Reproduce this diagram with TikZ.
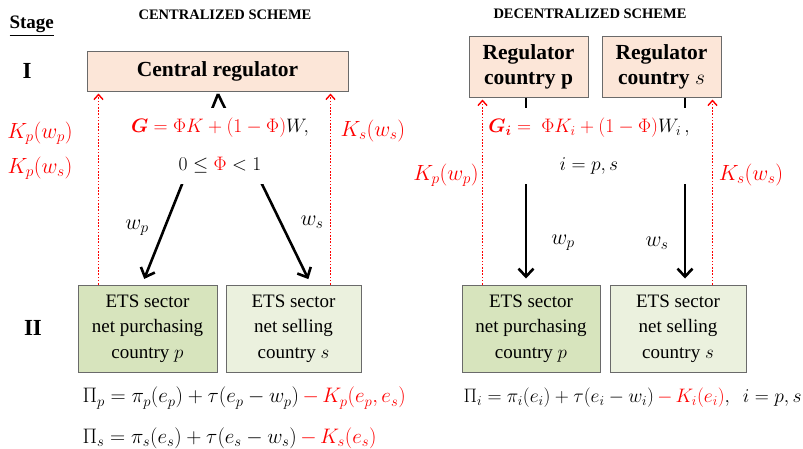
\RequirePackage{fix-cm}
\documentclass[tikz,border=0pt]{standalone}
\usepackage{amsmath}
\usepackage{bm}
\usepackage[no-math]{fontspec}
\setmainfont{Liberation Serif}
\usetikzlibrary{arrows.meta,calc}
\definecolor{peach}{HTML}{FCE6D8}
\definecolor{greenA}{HTML}{D7E4BD}
\definecolor{greenB}{HTML}{EBF1DE}
\definecolor{bordergray}{HTML}{6A6A6A}
\definecolor{myred}{HTML}{FF0000}
\begin{document}
\begin{tikzpicture}[x=1pt,y=-1pt,
  regbox/.style={draw=bordergray,line width=1pt,fill=peach,inner sep=0pt,align=center,
    font=\fontsize{21.5}{25}\selectfont\bfseries},
  etsbox/.style={draw=bordergray,line width=1pt,inner sep=0pt,align=center,
    minimum height=87pt,font=\fontsize{19}{25.5}\selectfont},
  maintxt/.style={font=\fontsize{22}{25}\selectfont},
  formtxt/.style={font=\fontsize{21}{25}\selectfont},
  redtxt/.style={font=\fontsize{22}{25}\selectfont,text=myred},
  mask/.style={fill=white,align=center,inner sep=0pt,font=\fontsize{19.5}{23}\selectfont},
  blackarrow/.style={line width=2.6pt,-{Straight Barb[length=8pt,width=15pt]},shorten >=6pt},
  redarrow/.style={myred,line width=1.4pt,dash pattern=on 1.6pt off 1.6pt,
    -{Straight Barb[length=5pt,width=9pt,line width=1.4pt]},shorten >=2pt},
  schemetitle/.style={font=\fontsize{14.5}{17}\selectfont\bfseries},
  stagelbl/.style={font=\fontsize{23}{26}\selectfont\bfseries}
]
\useasboundingbox (0,0) rectangle (803,448);

% ---------------- titles ----------------
\node[anchor=west,font=\fontsize{19}{22}\selectfont\bfseries] (stage) at (6,26) {\underline{Stage}};
\node[schemetitle] (tc) at (225,15) {CENTRALIZED SCHEME};
\node[schemetitle] (td) at (590,14) {DECENTRALIZED SCHEME};
\node[stagelbl] (s1) at (27,71) {I};
\node[stagelbl] (s2) at (33,328) {II};

% ---------------- centralized ----------------
\node[regbox,minimum width=261pt,minimum height=40pt] (cr) at (217.5,71) {Central regulator};
\node[etsbox,fill=greenA,minimum width=139pt] (lbC) at (147.5,328.5)
  {ETS sector\\net purchasing\\country $p$};
\node[etsbox,fill=greenB,minimum width=135pt] (rbC) at (293.5,328.5)
  {ETS sector\\net selling\\country $s$};

\coordinate (apex) at (218,94);
\draw[blackarrow] (apex) -- ([xshift=-5.5pt]lbC.north);
\draw[blackarrow] (apex) -- ([xshift=17.5pt]rbC.north);

\node[mask,minimum width=180pt,minimum height=76pt] (fc) at (220,146)
  {$\color{myred}\bm{G}=\Phi K+(1-\Phi)\color{black}W,$\\[15pt]
   $0\le{\color{myred}\Phi}<1$};

\draw[redarrow] ([xshift=21pt]lbC.north west) -- ([xshift=21pt]lbC.north west |- cr.south);
\draw[redarrow] ([xshift=-31pt]rbC.north east) -- ([xshift=-31pt]rbC.north east |- cr.south);

\node[redtxt] (kc1) at (40,133) {$K_p(w_p)$};
\node[redtxt] (kc2) at (40,168) {$K_p(w_s)$};
\node[redtxt] (kc3) at (373,131) {$K_s(w_s)$};
\node[maintxt] (wcp) at (137,228) {$w_p$};
\node[maintxt] (wcs) at (312,222) {$w_s$};

\node[formtxt,anchor=west] (pip) at (79,398)
  {$\Pi_p=\pi_p(e_p)+\tau(e_p-w_p)\,{\color{myred}-\,K_p(e_p,e_s)}$};
\node[formtxt,anchor=west] (pis) at (79,438)
  {$\Pi_s=\pi_s(e_s)+\tau(e_s-w_s)\,{\color{myred}-\,K_s(e_s)}$};

% ---------------- decentralized ----------------
\node[regbox,minimum width=119pt,minimum height=61pt] (rp) at (528.5,66.5)
  {Regulator\\country p};
\node[regbox,minimum width=119pt,minimum height=61pt] (rs) at (661.5,66.5)
  {Regulator\\country \textmd{$s$}};
\node[etsbox,fill=greenA,minimum width=138pt] (lbD) at (531,328.5)
  {ETS sector\\net purchasing\\country $p$};
\node[etsbox,fill=greenB,minimum width=136pt] (rbD) at (678,328.5)
  {ETS sector\\net selling\\country $s$};

\draw[blackarrow] ([xshift=-2.5pt]rp.south) -- ([xshift=-2.5pt]rp.south |- lbD.north);
\draw[blackarrow] ([xshift=23.5pt]rs.south) -- ([xshift=23.5pt]rs.south |- rbD.north);

\node[mask,minimum width=204pt,minimum height=76pt] (fd) at (589,146)
  {$\color{myred}\bm{G_i}=\ \Phi K_i+(1-\Phi)\color{black}W_i\,,$\\[15pt]
   $i=p,s$};

\draw[redarrow] ([xshift=21pt]lbD.north west) -- ([xshift=21pt]lbD.north west |- rp.south);
\draw[redarrow] ([xshift=-34pt]rbD.north east) -- ([xshift=-34pt]rbD.north east |- rs.south);

\node[redtxt] (kd1) at (446,175) {$K_p(w_p)$};
\node[redtxt] (kd2) at (751,175) {$K_s(w_s)$};
\node[maintxt] (wdp) at (563,243) {$w_p$};
\node[maintxt] (wds) at (657,243) {$w_s$};

\node[formtxt,font=\fontsize{19.5}{23}\selectfont,anchor=west] (pii) at (460,398)
  {$\Pi_i=\pi_i(e_i)+\tau(e_i-w_i)\,{\color{myred}-\,K_i(e_i)},\ \ i=p,s$};
\end{tikzpicture}
\end{document}
